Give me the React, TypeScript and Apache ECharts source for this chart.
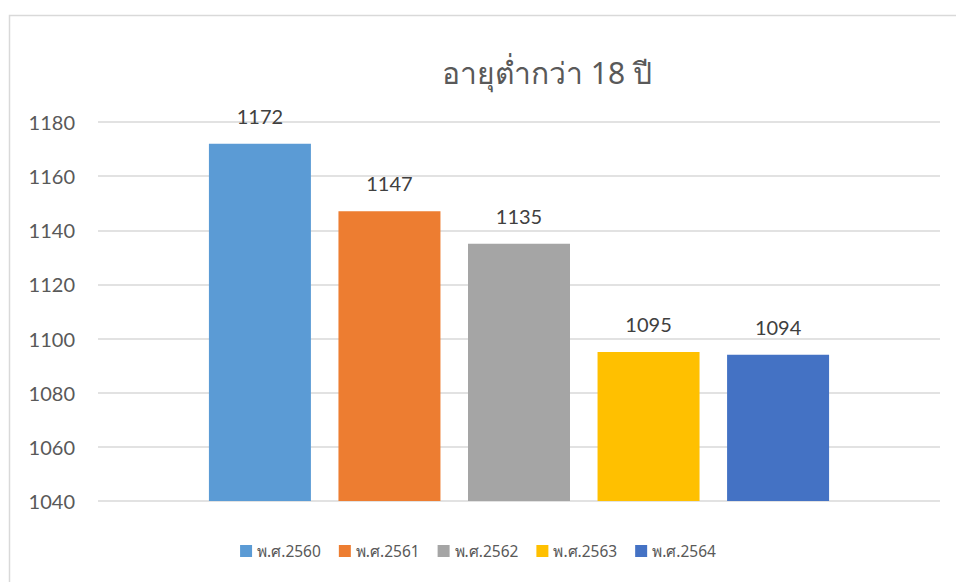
import React, { useEffect, useRef } from "react";
import * as echarts from "echarts";

const titleText = "อายุต่ำกว่า 18 ปี";
const categories = [""];
const seriesNames = ["พ.ศ.2560", "พ.ศ.2561", "พ.ศ.2562", "พ.ศ.2563", "พ.ศ.2564"];
const seriesValues = [1172, 1147, 1135, 1095, 1094];
const seriesColors = ["#5B9BD5", "#ED7D31", "#A5A5A5", "#FFC000", "#4472C4"];
const yMin = 1040;
const yMax = 1180;
const yInterval = 20;

export default function App() {
  const ref = useRef<HTMLDivElement>(null);
  useEffect(() => {
    if (!ref.current) return;
    const chart = echarts.init(ref.current, null, { renderer: "svg" });
    const font = "Lato, 'Open Sans', sans-serif";
    chart.setOption({
      animation: false,
      backgroundColor: "#ffffff",
      title: {
        text: titleText,
        left: 542,
        textAlign: "center",
        top: 52,
        textStyle: { fontSize: 30, fontWeight: "normal", color: "#595959", fontFamily: "'Noto Sans', sans-serif" },
      },
      graphic: [
        {
          type: "rect",
          shape: { x: 9.5, y: 15.5, width: 2000, height: 2000 },
          style: { fill: "none", stroke: "#D9D9D9", lineWidth: 1.5 },
          silent: true,
        },
      ],
      legend: {
        bottom: 18,
        left: "center",
        itemWidth: 12,
        itemHeight: 12,
        itemGap: 18,
        icon: "rect",
        textStyle: { fontSize: 15.5, color: "#595959", fontFamily: "'Noto Sans', sans-serif" },
        data: seriesNames,
      },
      grid: { left: 98, right: 16, top: 122, bottom: 81 },
      xAxis: {
        type: "category",
        data: categories,
        axisLine: { show: false },
        axisTick: { show: false },
        axisLabel: { show: false },
      },
      yAxis: {
        type: "value",
        min: yMin,
        max: yMax,
        interval: yInterval,
        axisLine: { show: false },
        axisTick: { show: false },
        axisLabel: {
          fontSize: 20,
          color: "#595959",
          margin: 23,
          fontFamily: font,
          formatter: (v: number) => String(v),
        },
        splitLine: { lineStyle: { color: "#D9D9D9", width: 1.5 } },
      },
      series: seriesNames.map((name, i) => ({
        name,
        type: "bar",
        data: [seriesValues[i]],
        barWidth: 102,
        barGap: "27%",
        itemStyle: { color: seriesColors[i] },
        label: {
          show: true,
          position: "top",
          distance: 18,
          fontSize: 20,
          color: "#404040",
          fontFamily: font,
        },
      })),
    });
    return () => chart.dispose();
  }, []);
  return (
    <div
      ref={ref}
      style={{ position: "absolute", left: 0, top: 0, width: 956, height: 582 }}
    />
  );
}
